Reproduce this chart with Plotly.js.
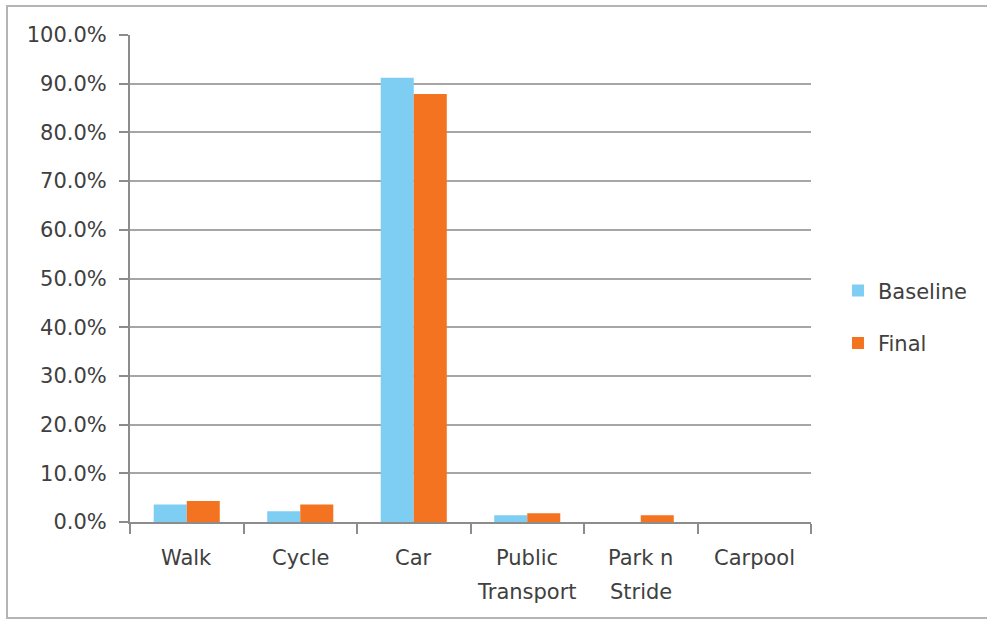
<!DOCTYPE html>
<html><head><meta charset="utf-8">
<script src="https://cdn.plot.ly/plotly-3.0.1.min.js"></script>
<style>
html,body{margin:0;padding:0;background:#fff;overflow:hidden;}
#frame{position:absolute;left:6px;top:5px;width:1000px;height:614px;border:2px solid #b4b4b4;box-sizing:border-box;}
#chart{position:absolute;left:0;top:0;width:987px;height:623px;}
</style></head>
<body>
<div id="frame"></div>
<div id="chart"></div>
<script>
const categories = ["Walk","Cycle","Car","Public Transport","Park n Stride","Carpool"];
const categoryLines = [["Walk"],["Cycle"],["Car"],["Public","Transport"],["Park n","Stride"],["Carpool"]];
const baseline = [0.036, 0.022, 0.912, 0.014, 0, 0];
const final = [0.043, 0.036, 0.879, 0.018, 0.014, 0];
const yTicks = [0,0.1,0.2,0.3,0.4,0.5,0.6,0.7,0.8,0.9,1.0];

const FAM = "DejaVu Sans, Liberation Sans, sans-serif";
const TXT = "#404040";
const data = [
  {type:"bar", name:"Baseline", x:categories, y:baseline, marker:{color:"#7ecef4"}, legendgroup:"a"},
  {type:"bar", name:"Final", x:categories, y:final, marker:{color:"#f47321"}, legendgroup:"b"}
];
const annotations = [];
categoryLines.forEach((lines, i) => {
  lines.forEach((t, j) => {
    annotations.push({x:categories[i], xref:"x", y:0, yref:"paper", text:t, showarrow:false,
      xanchor:"center", yanchor:"middle", yshift:-36 - 34*j, font:{family:FAM, size:21, color:TXT}});
  });
});
const layout = {
  width:987, height:623,
  paper_bgcolor:"rgba(0,0,0,0)", plot_bgcolor:"rgba(0,0,0,0)",
  margin:{l:130, r:176, t:35, b:101},
  font:{family:FAM, size:21, color:TXT},
  barmode:"group", bargap:0.418, bargroupgap:0,
  showlegend:true,
  legend:{x:1.0396, y:0.421, xanchor:"left", yanchor:"middle", font:{size:21,color:TXT,family:FAM}, tracegroupgap:22, itemwidth:30},
  annotations:annotations,
  xaxis:{type:"category", categoryarray:categories, tickson:"boundaries", ticks:"outside", ticklen:10, tickcolor:"#8c8c8c", tickwidth:2,
    showline:true, linecolor:"#8c8c8c", linewidth:2, showgrid:false, showticklabels:false, fixedrange:true},
  yaxis:{range:[0,1], tickvals:yTicks, tickformat:".1%", ticks:"outside", ticklen:9, tickcolor:"#8c8c8c", tickwidth:2,
    showline:true, linecolor:"#8c8c8c", linewidth:2, showgrid:true, gridcolor:"#a6a6a6", gridwidth:2, zeroline:false,
    tickfont:{size:21,color:TXT,family:FAM}, ticklabelstandoff:8}
};
Plotly.newPlot("chart", data, layout, {displayModeBar:false, staticPlot:true});
</script>
</body></html>
